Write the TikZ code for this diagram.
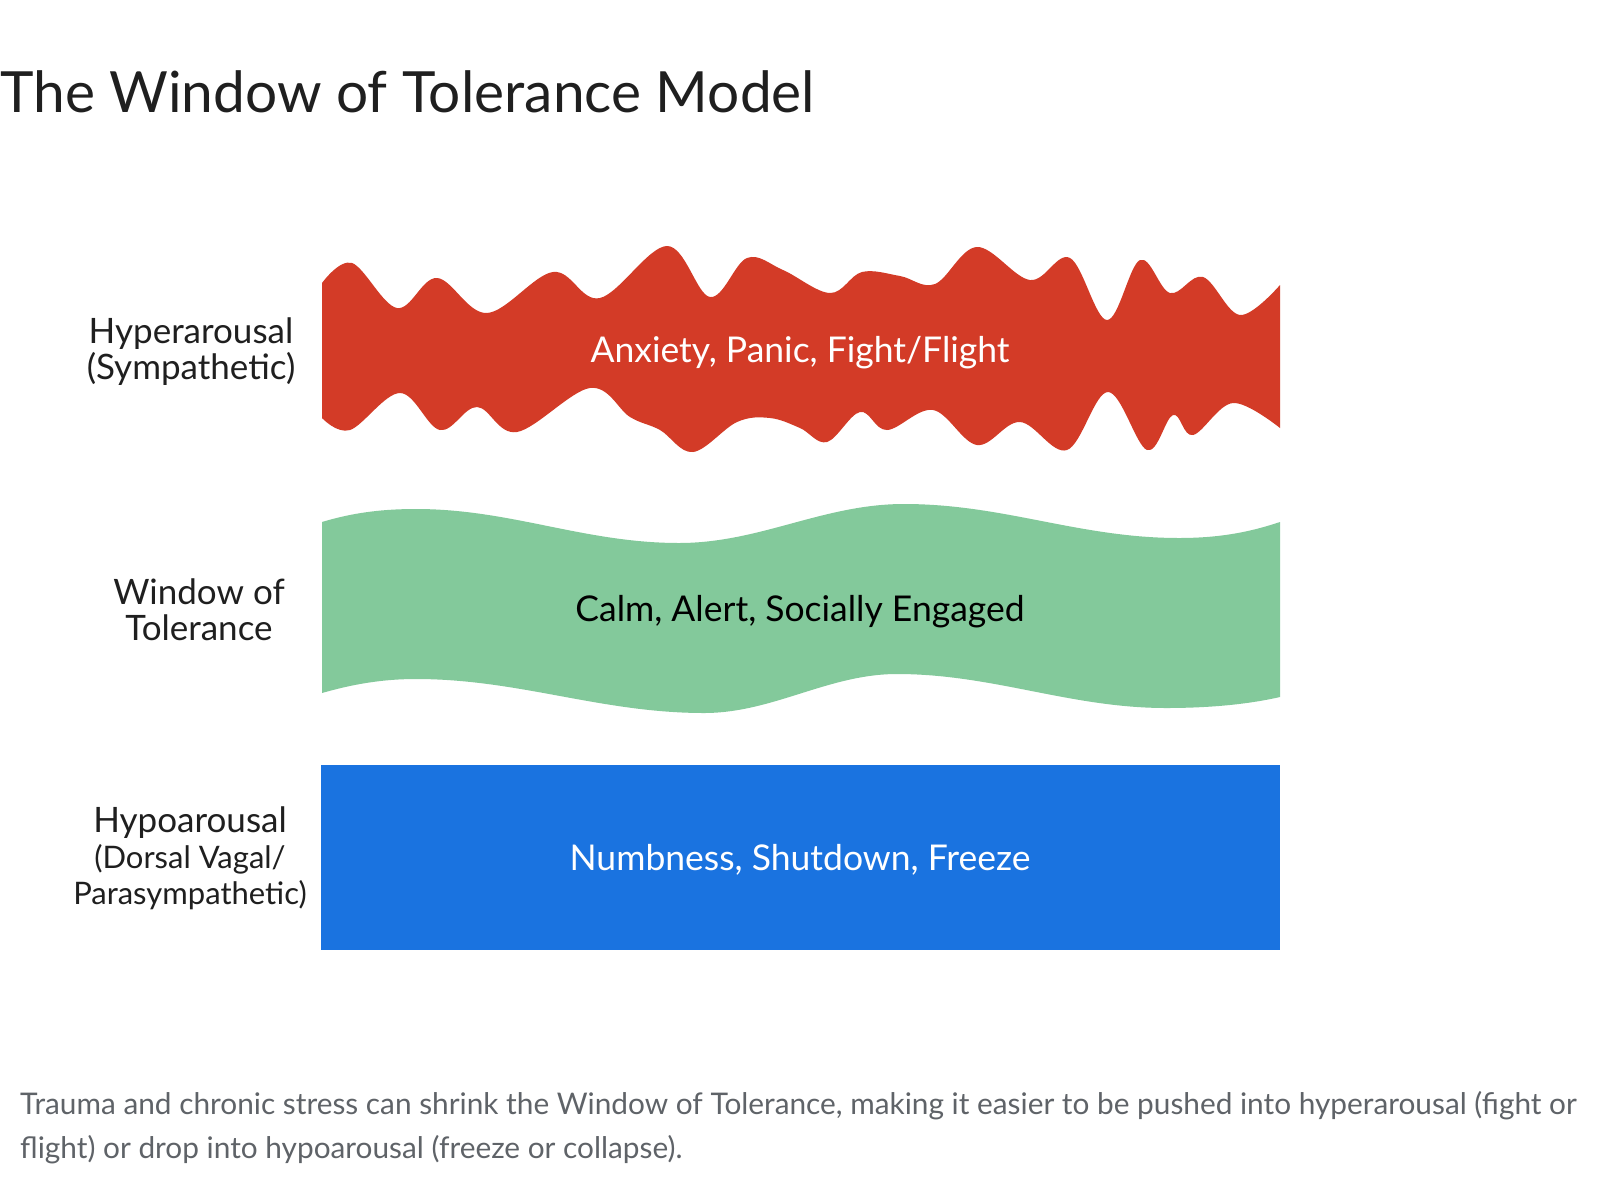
\documentclass[tikz,border=0pt]{standalone}
\usepackage{fontspec}
\setmainfont{Lato}
\usetikzlibrary{positioning}
\definecolor{wotred}{HTML}{D33B27}
\definecolor{wotgreen}{HTML}{83C99B}
\definecolor{wotblue}{HTML}{1A73E0}
\definecolor{wotgray}{HTML}{5F6368}
\definecolor{wotink}{HTML}{1F1F1F}

\begin{document}
\begin{tikzpicture}[
    x=1pt, y=-1pt,
    zonelabel/.style={align=center, text=wotink, inner sep=0pt, font=\fontsize{35}{36}\selectfont},
    bandtext/.style={inner sep=0pt, font=\fontsize{35.5}{38}\selectfont},
    captext/.style={anchor=base west, inner sep=0pt, text=wotgray, font=\fontsize{29.8}{34}\selectfont},
]
    \useasboundingbox[fill=white] (0,0) rectangle (1600,1200);

    % Title
    \node[anchor=base west, inner sep=0pt, text=wotink, font=\fontsize{56.8}{62}\selectfont] (title) at (0,112) {The Window of Tolerance Model};

    % Hyperarousal band
    \fill[wotred] plot[smooth, tension=0.6] coordinates {(322,283) (352,263) (397,308) (437,278) (487,313) (553,272) (600,298) (667,246) (710,297) (747,258) (783,270) (830,293) (862,272) (900,276) (935,284) (977,247) (1030,280) (1070,258) (1107,320) (1140,260) (1170,293) (1203,277) (1240,315) (1280,285)}
        -- plot[smooth, tension=0.6] coordinates {(1280,428) (1233,403) (1193,435) (1173,415) (1147,450) (1108,392) (1067,450) (1020,422) (977,445) (933,410) (887,430) (860,412) (827,442) (800,428) (770,418) (737,422) (693,452) (660,430) (630,417) (590,388) (517,432) (477,407) (440,430) (400,393) (350,430) (322,418)}
        -- cycle;
    \node[bandtext, text=white] (hypertxt) at (800,353) {Anxiety, Panic, Fight/Flight};

    % Window of tolerance band
    \fill[wotgreen] (322,522) .. controls (355,512) and (385,509) .. (416,509)
        .. controls (511,509) and (584,543) .. (679,543)
        .. controls (760,543) and (823,504) .. (904,504)
        .. controls (1004,504) and (1079,538) .. (1179,538)
        .. controls (1220,538) and (1250,532) .. (1280,522)
        -- (1280,697)
        .. controls (1245,705) and (1205,708) .. (1166,708)
        .. controls (1070,708) and (993,674) .. (897,674)
        .. controls (828,674) and (773,713) .. (704,713)
        .. controls (601,713) and (519,679) .. (416,679)
        .. controls (380,679) and (350,685) .. (322,693)
        -- cycle;
    \node[bandtext, text=black] (windowtxt) at (800,612) {Calm, Alert, Socially Engaged};

    % Hypoarousal band
    \node[fill=wotblue, minimum width=959pt, minimum height=185pt] (hypo) at (800.5,857.5) {};
    \node[bandtext, text=white] (hypotxt) at (800,860) {Numbness, Shutdown, Freeze};

    % Zone labels
    \node[zonelabel] (hyperlbl) at (191,352) {Hyperarousal\\(Sympathetic)};
    \node[zonelabel] (windowlbl) at (199,610) {Window of\\Tolerance};
    \node[zonelabel] (hypolbl) at (190,858) {Hypoarousal\\{\fontsize{31}{32}\selectfont (Dorsal Vagal/}\\{\fontsize{31}{32}\selectfont Parasympathetic)}};

    % Caption
    \node[captext] (cap1) at (20,1114) {Trauma and chronic stress can shrink the Window of Tolerance, making it easier to be pushed into hyperarousal (fight or};
    \node[captext] (cap2) at (20,1158) {flight) or drop into hypoarousal (freeze or collapse).};
\end{tikzpicture}
\end{document}
